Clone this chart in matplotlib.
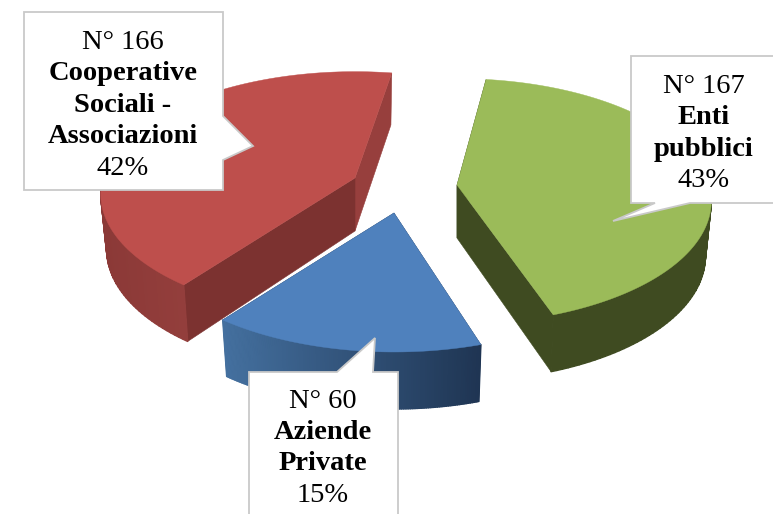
import numpy as np
import matplotlib
matplotlib.use("Agg")
import matplotlib.pyplot as plt
from matplotlib.collections import PolyCollection
from matplotlib.colors import to_rgb
from matplotlib.patches import Polygon

# ---- data ----
names = ["Enti\npubblici", "Aziende\nPrivate", "Cooperative\nSociali -\nAssociazioni"]
counts = [167, 60, 166]
percents = [43, 15, 42]

# ---- style ----
start_cw = 9.5
nudge = [-2.0, 0.0, 0.0]
centers = [(457, 185), (394, 213), (355, 178)]
top_cols = ["#9BBB59", "#4F81BD", "#BE4F4C"]
wall_stops = [("#3F4B21", "#3F4B21"), ("#1F3553", "#44709F"), ("#A84B48", "#8B3937")]
cut_cols = [("#3F4B21", "#3F4B21"), ("#2A4060", "#2A4060"), ("#973F3D", "#7C3230")]
A, B, K = 252.0, 120.5, 0.133


def top_pt(cw_deg):
    t = np.radians(cw_deg)
    u, v = np.cos(t), np.sin(t)
    s = 1 / (1 + K * u)
    return A * v * s, -B * u * s, u


def bot_pt(cw_deg):
    x, y, u = top_pt(cw_deg)
    return x * 0.977, y + 54.5 - 2.5 * u


fig = plt.figure(figsize=(7.73, 5.14), dpi=100)
ax = fig.add_axes([0, 0, 1, 1])
ax.set_xlim(0, 773)
ax.set_ylim(514, 0)
ax.axis("off")

total = sum(counts)
spans = [c / total * 360 for c in counts]
starts = [start_cw + sum(spans[:i]) + nudge[i] for i in range(len(counts))]

for i in [2, 0, 1]:
    cx, cy = centers[i]
    a0, a1 = starts[i], starts[i] + spans[i]
    angs = np.linspace(a0, a1, 121)
    tx, ty, tu = top_pt(angs)
    bx, by = bot_pt(angs)
    # flat cut faces, seen between the slices
    for ang, col, z in ((a1, cut_cols[i][0], 2), (a0, cut_cols[i][1], 2)):
        px, py, _ = top_pt(ang)
        qx, qy = bot_pt(ang)
        ax.add_patch(Polygon([(cx, cy), (cx + px, cy + py), (cx + qx, cy + qy), (cx, cy + 53)],
                             closed=True, fc=col, ec=col, lw=0.4, zorder=z))
    # outer wall on the near half only, shaded from the right to the left of the picture
    quads, cols = [], []
    c_r, c_l = map(np.array, map(to_rgb, wall_stops[i]))
    span_x = max(tx.max() - tx.min(), 1)
    for j in range(len(angs) - 1):
        if tu[j] > 0.03:
            continue
        quads.append([(cx + tx[j], cy + ty[j]), (cx + tx[j + 1], cy + ty[j + 1]),
                      (cx + bx[j + 1], cy + by[j + 1]), (cx + bx[j], cy + by[j])])
        f = (tx.max() - tx[j]) / span_x
        cols.append(tuple(c_r + (c_l - c_r) * f))
    ax.add_collection(PolyCollection(quads, facecolors=cols, edgecolors=cols, linewidths=1.0, zorder=3))
    # top face
    pts = [(cx, cy)] + list(zip(cx + tx, cy + ty))
    ax.add_patch(Polygon(pts, closed=True, fc=top_cols[i], ec=top_cols[i], lw=0.3, zorder=4))

# ---- callouts ----
callouts = [
    [(631, 56), (780, 56), (780, 203), (690, 203), (613, 221), (655, 203), (631, 203)],
    [(249, 372), (337, 372), (375, 338), (373, 372), (398, 372), (398, 530), (249, 530)],
    [(24, 12), (223, 12), (223, 116), (253, 146), (223, 160), (223, 190), (24, 190)],
]
text_xy = [(704, 86.5), (323, 401), (123, 42.5)]
line_h = 31.4
serif = "Liberation Serif"
fs = 20.5

for i, poly in enumerate(callouts):
    ax.add_patch(Polygon(poly, closed=True, fc="white", ec="#C9C9C9", lw=1.3, zorder=6, clip_on=True))
    x, y = text_xy[i]
    ax.text(x, y, f"N° {counts[i]}", ha="center", va="center", family=serif, fontsize=fs, color="black", zorder=7)
    lines = names[i].split("\n")
    for k, ln in enumerate(lines):
        ax.text(x, y + line_h * (k + 1), ln, ha="center", va="center", family=serif,
                fontweight="bold", fontsize=fs, color="black", zorder=7)
    ax.text(x, y + line_h * (len(lines) + 1), f"{percents[i]}%", ha="center", va="center",
            family=serif, fontsize=fs, color="black", zorder=7)

fig.savefig("out.png", dpi=100, facecolor="white")
